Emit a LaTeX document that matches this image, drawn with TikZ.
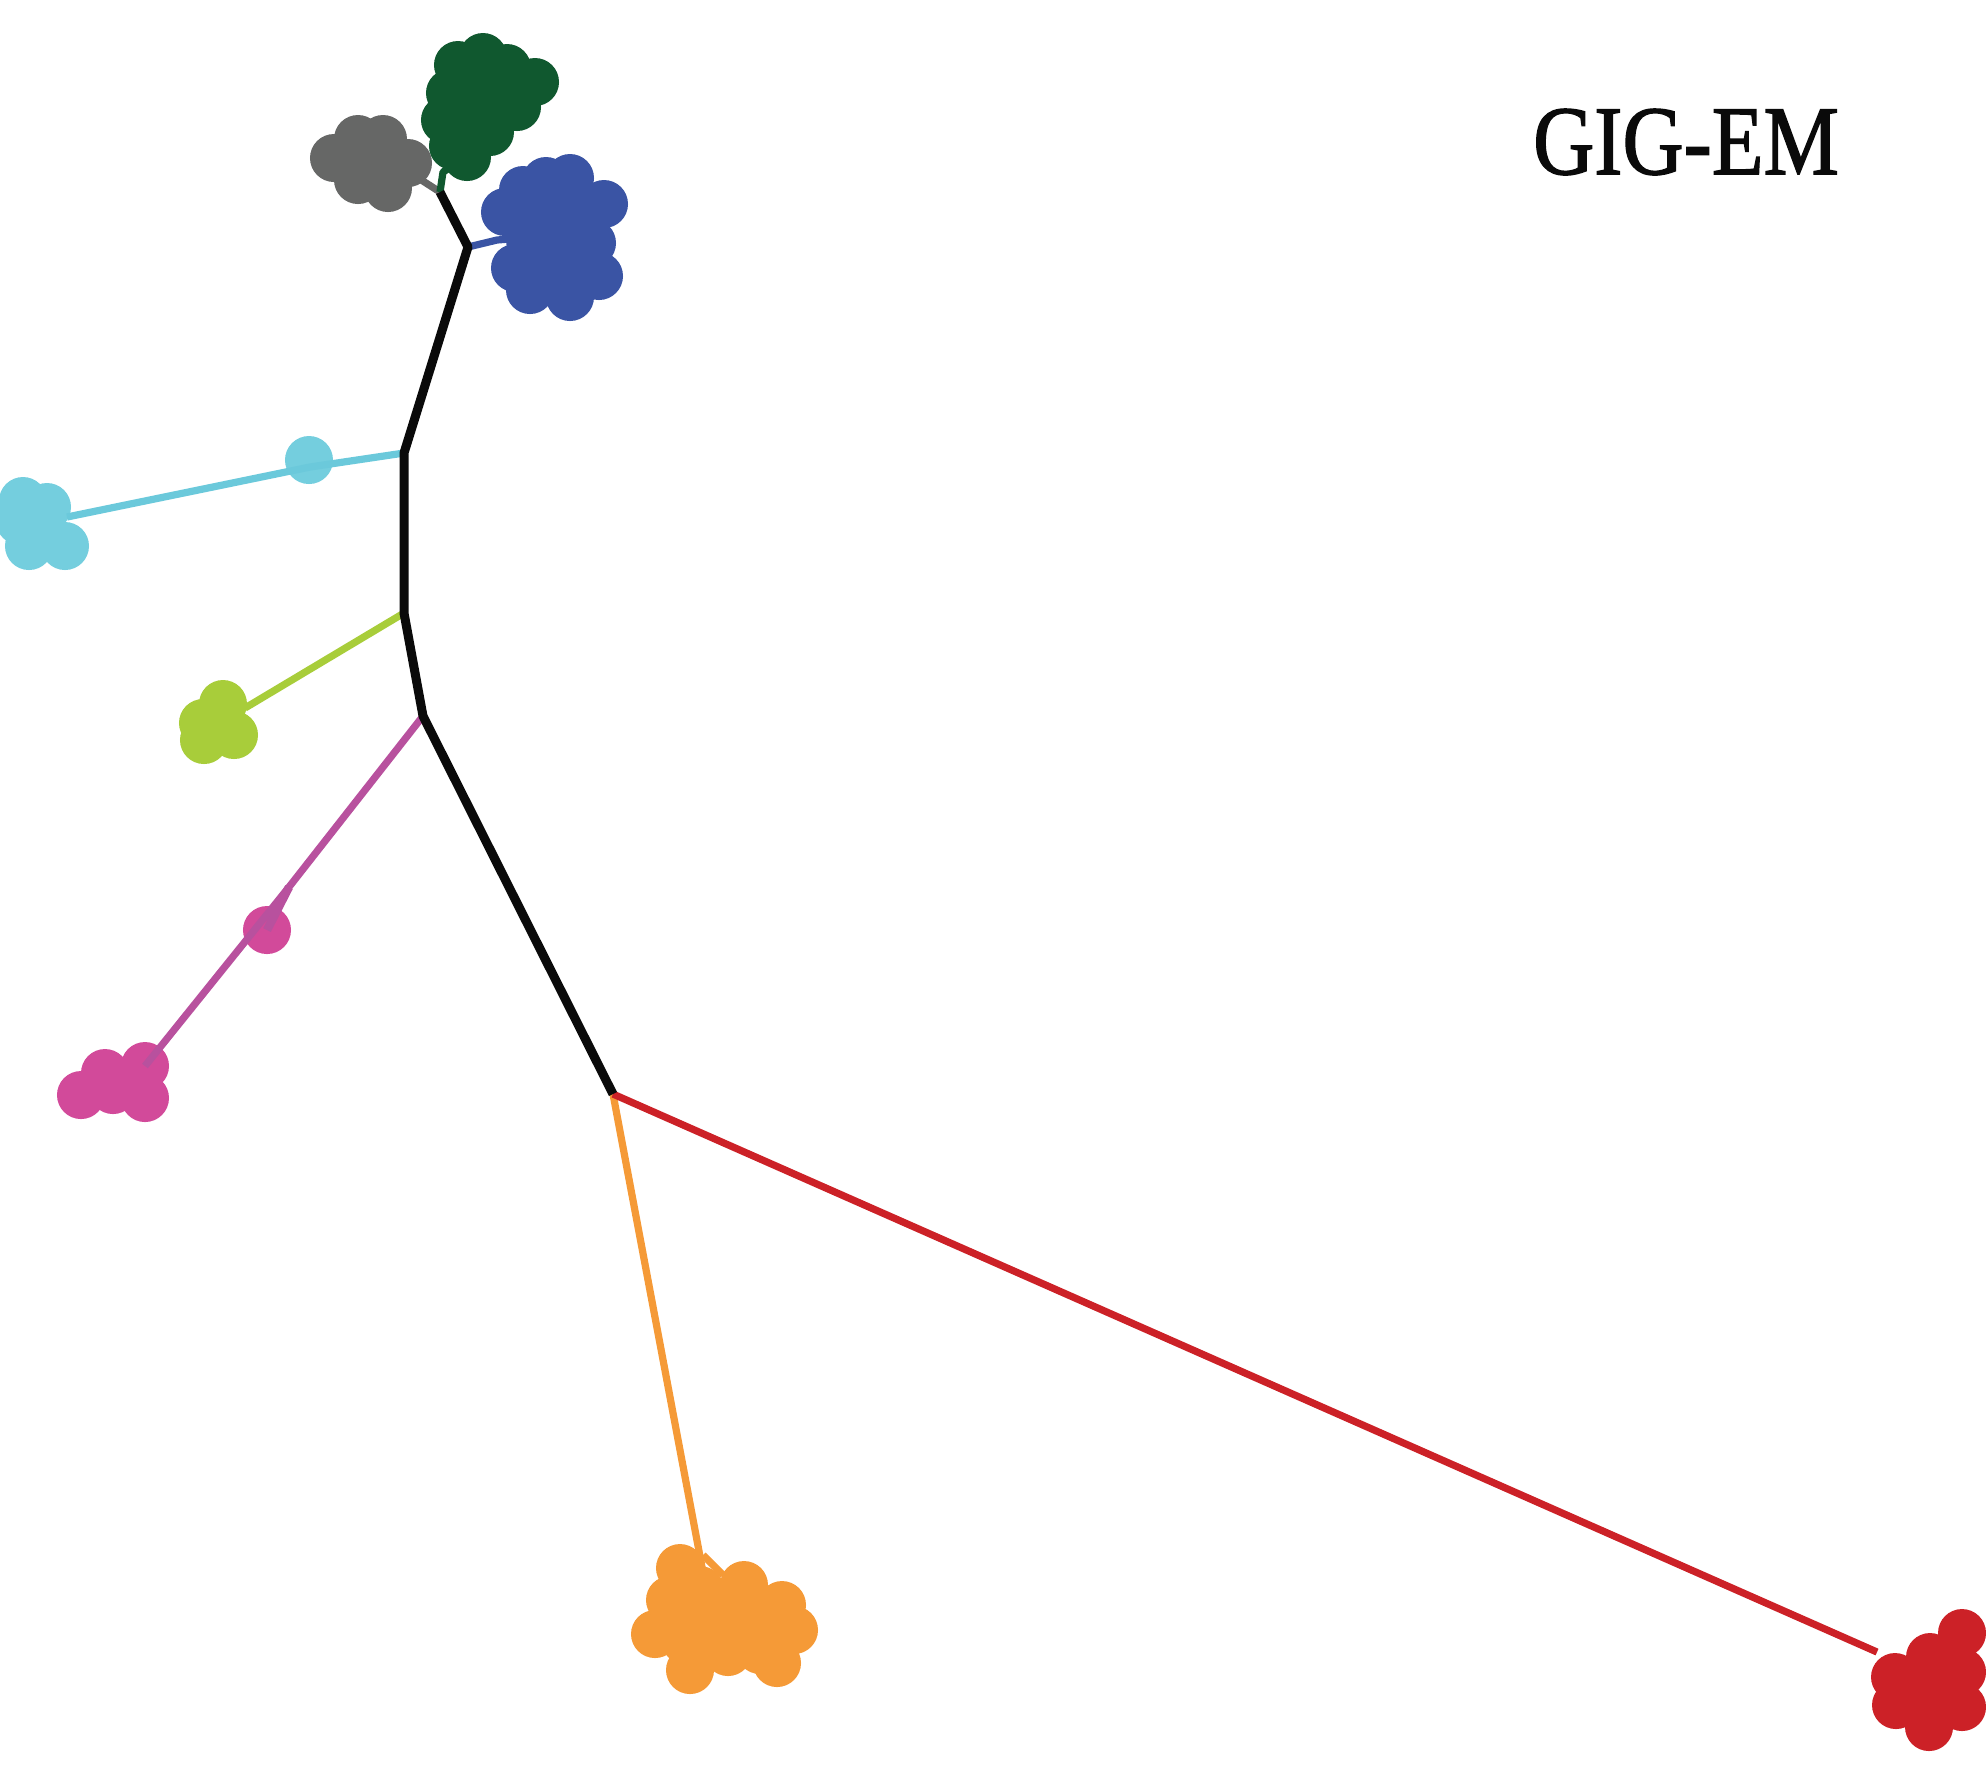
\documentclass[tikz,border=0pt]{standalone}
\usepackage{fontspec}
\newfontfamily\titlefont[FakeBold=1.5]{Liberation Serif}
\definecolor{cblack}{HTML}{0A0A0A}
\definecolor{cgray}{HTML}{666766}
\definecolor{cgreen}{HTML}{10582F}
\definecolor{cblue}{HTML}{3A54A4}
\definecolor{ccyan}{HTML}{74CEDE}
\definecolor{ccyanl}{HTML}{6BC9DB}
\definecolor{clime}{HTML}{A8CD3A}
\definecolor{cmagl}{HTML}{B8519E}
\definecolor{cmag}{HTML}{D24A9A}
\definecolor{corange}{HTML}{F59A37}
\definecolor{cred}{HTML}{CC2127}
\begin{document}
\begin{tikzpicture}[x=0.01cm,y=-0.01cm,
  blob/.style={circle, fill=#1, draw=none, minimum size=4.8mm, inner sep=0pt},
  trunk/.style={draw=cblack, line width=0.09cm, line join=round},
  twig/.style={draw=#1, line width=0.072cm, line join=round}]
\useasboundingbox (0,0) rectangle (1986,1765);
% junctions
\coordinate (A) at (440,192);
\coordinate (B) at (468,247);
\coordinate (C) at (404,453);
\coordinate (E) at (404,613);
\coordinate (F) at (423,716);
\coordinate (G) at (613,1094);
% branch internal points
\coordinate (gr1) at (443,172);
\coordinate (gy1) at (409,172);
\coordinate (bl1) at (497,240);
\coordinate (bl2) at (522,238);
\coordinate (cy1b) at (310,467);
\coordinate (cy2) at (67,517);
\coordinate (li1) at (245,708);
\coordinate (P) at (289,887);
\coordinate (or1) at (705,1583);
\coordinate (or2) at (703,1555);
\coordinate (or3) at (723,1575);
\coordinate (re1) at (1877,1652);
% clusters
\node[blob=cgray] (gy1c) at (334,158) {};
\node[blob=cgray] (gy2c) at (358,139) {};
\node[blob=cgray] (gy3c) at (383,139) {};
\node[blob=cgray] (gy4c) at (408,163) {};
\node[blob=cgray] (gy5c) at (358,180) {};
\node[blob=cgray] (gy6c) at (388,188) {};
\node[blob=cgray] (gy7c) at (370,160) {};
%
\node[blob=cgreen] (g1) at (458,65) {};
\node[blob=cgreen] (g2) at (483,57) {};
\node[blob=cgreen] (g3) at (507,68) {};
\node[blob=cgreen] (g4) at (535,82) {};
\node[blob=cgreen] (g5) at (450,93) {};
\node[blob=cgreen] (g6) at (445,120) {};
\node[blob=cgreen] (g7) at (453,146) {};
\node[blob=cgreen] (g8) at (467,157) {};
\node[blob=cgreen] (g9) at (517,107) {};
\node[blob=cgreen] (g10) at (490,132) {};
\node[blob=cgreen] (g11) at (480,100) {};
\node[blob=cgreen] (g12) at (470,125) {};
%
\node[blob=cblue] (b1) at (505,212) {};
\node[blob=cblue] (b2) at (523,190) {};
\node[blob=cblue] (b3) at (546,181) {};
\node[blob=cblue] (b4) at (570,178) {};
\node[blob=cblue] (b5) at (604,204) {};
\node[blob=cblue] (b6) at (592,243) {};
\node[blob=cblue] (b7) at (599,276) {};
\node[blob=cblue] (b8) at (570,297) {};
\node[blob=cblue] (b9) at (530,290) {};
\node[blob=cblue] (b10) at (515,268) {};
\node[blob=cblue] (b11) at (555,240) {};
\node[blob=cblue] (b12) at (545,215) {};
\node[blob=cblue] (b13) at (575,215) {};
\node[blob=cblue] (b14) at (575,260) {};
\node[blob=cblue] (b15) at (545,265) {};
\node[blob=cblue] (b16) at (530,240) {};
%
\node[blob=ccyan] (cys) at (309,460) {};
\node[blob=ccyan] (cy1) at (23,501) {};
\node[blob=ccyan] (cy2c) at (47,507) {};
\node[blob=ccyan] (cy3) at (20,521) {};
\node[blob=ccyan] (cy4) at (29,546) {};
\node[blob=ccyan] (cy5) at (65,546) {};
\node[blob=ccyan] (cy6) at (40,528) {};
%
\node[blob=clime] (l1) at (223,704) {};
\node[blob=clime] (l2) at (203,723) {};
\node[blob=clime] (l3) at (204,740) {};
\node[blob=clime] (l4) at (234,735) {};
\node[blob=clime] (l5) at (218,725) {};
%
\node[blob=cmag] (ms) at (267,930) {};
\node[blob=cmag] (m1) at (81,1095) {};
\node[blob=cmag] (m2) at (105,1073) {};
\node[blob=cmag] (m3) at (113,1090) {};
\node[blob=cmag] (m4) at (145,1066) {};
\node[blob=cmag] (m5) at (145,1098) {};
%
\node[blob=corange] (o1) at (680,1568) {};
\node[blob=corange] (o2) at (670,1600) {};
\node[blob=corange] (o3) at (655,1634) {};
\node[blob=corange] (o4) at (690,1670) {};
\node[blob=corange] (o5) at (728,1652) {};
\node[blob=corange] (o6) at (744,1585) {};
\node[blob=corange] (o7) at (782,1605) {};
\node[blob=corange] (o8) at (794,1630) {};
\node[blob=corange] (o9) at (777,1663) {};
\node[blob=corange] (o10) at (715,1615) {};
\node[blob=corange] (o11) at (750,1625) {};
\node[blob=corange] (o12) at (690,1610) {};
\node[blob=corange] (o13) at (685,1640) {};
\node[blob=corange] (o14) at (715,1645) {};
\node[blob=corange] (o15) at (760,1650) {};
\node[blob=corange] (o16) at (770,1625) {};
\node[blob=corange] (o17) at (740,1605) {};
\node[blob=corange] (o18) at (700,1590) {};
%
\node[blob=cred] (r1) at (1962,1633) {};
\node[blob=cred] (r2) at (1930,1657) {};
\node[blob=cred] (r3) at (1895,1677) {};
\node[blob=cred] (r4) at (1896,1705) {};
\node[blob=cred] (r5) at (1929,1727) {};
\node[blob=cred] (r6) at (1962,1707) {};
\node[blob=cred] (r7) at (1962,1672) {};
\node[blob=cred] (r8) at (1928,1692) {};
% branches
\draw[twig=cgray] (A) -- (gy1) -- (gy4c.center);
\draw[twig=cgreen] (A) -- (gr1) -- (g8.center);
\draw[twig=cblue] (B) -- (bl1) -- (bl2);
\draw[twig=ccyanl] (C) -- (cy1b) -- (cy2);
\draw[twig=clime] (E) -- (li1);
\draw[twig=cmagl] (F) -- (P) -- (m4.center);
\draw[twig=cmagl, line width=0.085cm] (P) -- (ms.center);
\draw[twig=corange] (G) -- (or1);
\draw[twig=corange] (or2) -- (or3);
\draw[twig=cred] (G) -- (re1);
% trunk
\draw[trunk] (A) -- (B) -- (C) -- (E) -- (F) -- (G);
% title
\node[xscale=0.86, text=cblack] (title) at (1686,142) {\titlefont\fontsize{28pt}{30pt}\selectfont GIG-EM};
\end{tikzpicture}
\end{document}
